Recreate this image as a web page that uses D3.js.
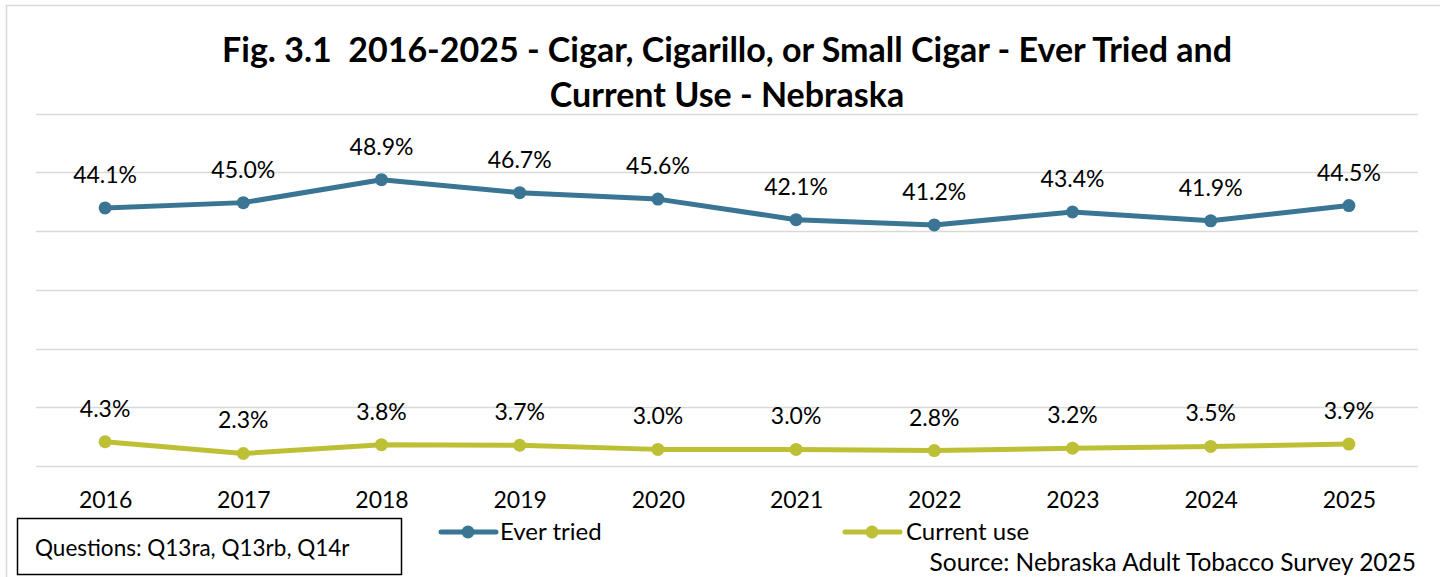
<!DOCTYPE html>
<html>
<head>
<meta charset="utf-8">
<script src="https://cdn.jsdelivr.net/npm/d3@7"></script>
<style>
  html, body { margin: 0; padding: 0; background: #fff; }
  svg { display: block; font-family: Lato, "Open Sans", sans-serif; }
  text { white-space: pre; }
</style>
</head>
<body>
<svg id="chart" width="1440" height="577"></svg>
<script>
const years = ["2016","2017","2018","2019","2020","2021","2022","2023","2024","2025"];
const everTried = [44.1, 45.0, 48.9, 46.7, 45.6, 42.1, 41.2, 43.4, 41.9, 44.5];
const currentUse = [4.3, 2.3, 3.8, 3.7, 3.0, 3.0, 2.8, 3.2, 3.5, 3.9];
const seriesNames = ["Ever tried", "Current use"];
const seriesColors = ["#3a7594", "#bdc034"];
const yTicks = [0, 10, 20, 30, 40, 50, 60];
const titleLines = ["Fig. 3.1  2016-2025 - Cigar, Cigarillo, or Small Cigar - Ever Tried and", "Current Use - Nebraska"];
const noteText = "Questions: Q13ra, Q13rb, Q14r";
const sourceText = "Source: Nebraska Adult Tobacco Survey 2025";

const svg = d3.select("#chart");

// outer chart frame
svg.append("rect").attr("x", 6.5).attr("y", 5.5).attr("width", 1450).attr("height", 600)
  .attr("fill", "none").attr("stroke", "#d9d9d9").attr("stroke-width", 1.5);

const x = d3.scalePoint().domain(years).range([36, 1418]).padding(0.5);
const y = d3.scaleLinear().domain([0, 60]).range([467, 114.5]);

// gridlines
svg.append("g").selectAll("line").data(yTicks).join("line")
  .attr("x1", 36).attr("x2", 1418)
  .attr("y1", d => Math.round(y(d)) - 0.5).attr("y2", d => Math.round(y(d)) - 0.5)
  .attr("stroke", "#d9d9d9").attr("stroke-width", 1.5);

// title
svg.append("g").selectAll("text").data(titleLines).join("text")
  .attr("x", 727).attr("y", (d, i) => 62 + i * 45)
  .attr("text-anchor", "middle").attr("font-size", 34).attr("font-weight", "bold")
  .attr("xml:space", "preserve")
  .attr("fill", "#000").text(d => d);

// x axis labels
const xAxis = d3.axisBottom(x).tickSize(0).tickPadding(0);
const xg = svg.append("g").attr("transform", "translate(0,492)").call(xAxis);
xg.select(".domain").remove();
xg.selectAll("text").attr("font-size", 23).attr("font-family", "Lato, sans-serif").attr("fill", "#000");

const series = [everTried, currentUse];
series.forEach((vals, si) => {
  const data = years.map((yr, i) => ({ yr, v: vals[i] }));
  const line = d3.line().x(d => x(d.yr)).y(d => y(d.v));
  svg.append("path").datum(data).attr("d", line)
    .attr("fill", "none").attr("stroke", seriesColors[si]).attr("stroke-width", 5)
    .attr("stroke-linejoin", "round").attr("stroke-linecap", "round");
  svg.append("g").selectAll("circle").data(data).join("circle")
    .attr("cx", d => x(d.yr)).attr("cy", d => y(d.v)).attr("r", 6.5)
    .attr("fill", seriesColors[si]);
  svg.append("g").selectAll("text").data(data).join("text")
    .attr("x", d => x(d.yr)).attr("y", d => y(d.v) - 25)
    .attr("text-anchor", "middle").attr("font-size", 23).attr("fill", "#000")
    .text(d => d.v.toFixed(1) + "%");
});

// legend
const legendPos = [{ cx: 468, tx: 500 }, { cx: 872, tx: 906 }];
seriesNames.forEach((name, i) => {
  const g = svg.append("g");
  g.append("line").attr("x1", legendPos[i].cx - 27).attr("x2", legendPos[i].cx + 28)
    .attr("y1", 532).attr("y2", 532).attr("stroke", seriesColors[i]).attr("stroke-width", 5)
    .attr("stroke-linecap", "round");
  g.append("circle").attr("cx", legendPos[i].cx).attr("cy", 532).attr("r", 6.5).attr("fill", seriesColors[i]);
  g.append("text").attr("x", legendPos[i].tx).attr("y", 540).attr("font-size", 24).attr("fill", "#000").text(name);
});

// questions box
svg.append("rect").attr("x", 17.5).attr("y", 518.5).attr("width", 384).attr("height", 56)
  .attr("fill", "#fff").attr("stroke", "#000").attr("stroke-width", 1.5);
svg.append("text").attr("x", 35).attr("y", 556).attr("font-size", 22.5).attr("fill", "#000").text(noteText);

// source
svg.append("text").attr("x", 1416).attr("y", 571).attr("text-anchor", "end")
  .attr("font-size", 24.5).attr("fill", "#000").text(sourceText);
</script>
</body>
</html>
